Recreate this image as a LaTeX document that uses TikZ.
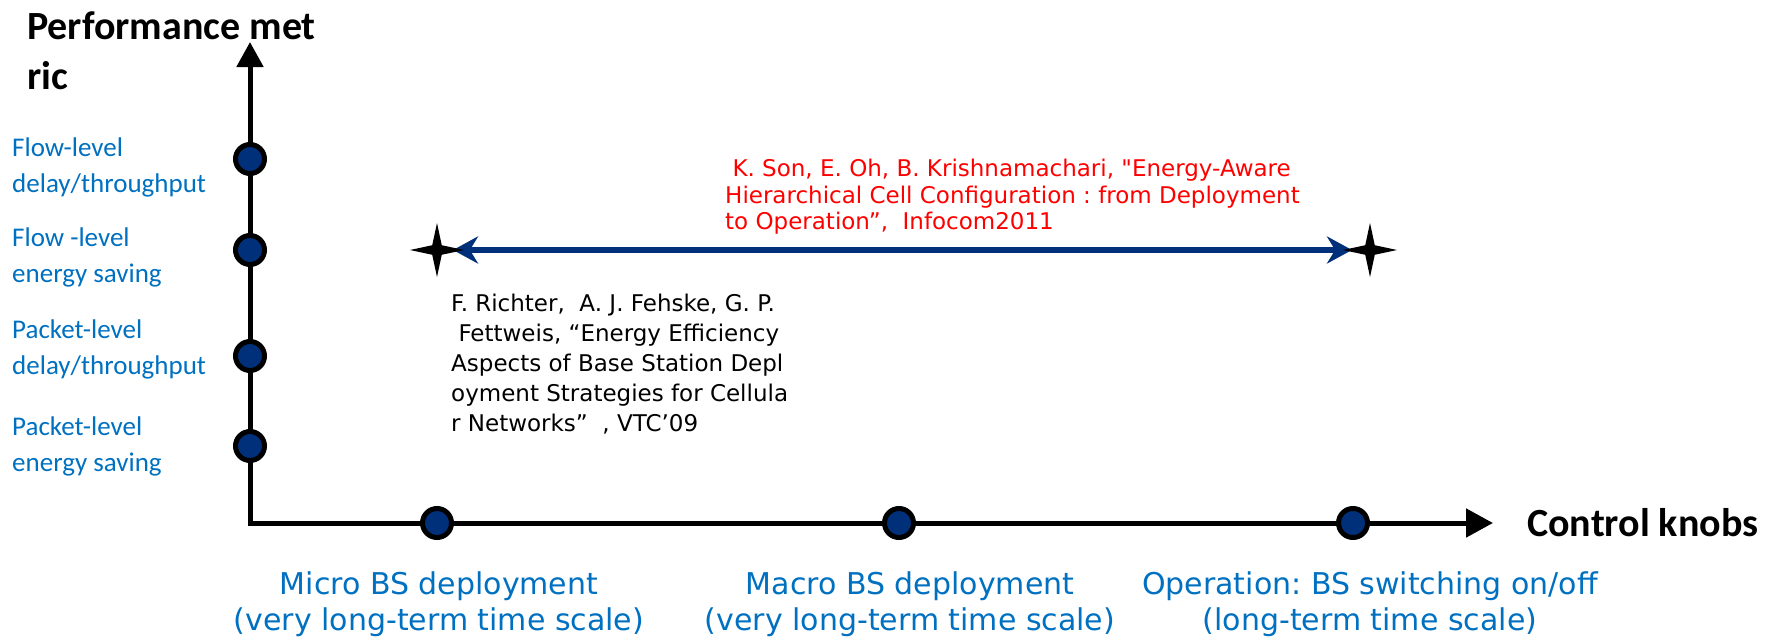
\documentclass[tikz,border=0pt]{standalone}
\usepackage{fontspec}
\usepackage{tikz}
\usetikzlibrary{arrows.meta,shapes.geometric,positioning}
\setmainfont{DejaVu Sans}
\newfontfamily\handfont{Carlito}
\definecolor{navy}{RGB}{0,48,122}
\definecolor{knobblue}{RGB}{0,112,192}
\frenchspacing

\begin{document}
\begin{tikzpicture}[x=1pt,y=-1pt]
\useasboundingbox (0,0) rectangle (1767,640);

\coordinate (o) at (250,523);
\coordinate (ytop) at (250,42);
\coordinate (xend) at (1493,523);
\coordinate (sl) at (437,250);
\coordinate (sr) at (1370,250);

\draw [line width=5pt, line join=miter,
       {Triangle[length=25pt,width=26pt]}-{Triangle[length=27pt,width=28pt]}]
      (ytop) -- (o) -- (xend);

\begin{scope}[>={Stealth[navy,length=25pt,width=27pt]},
              every edge/.style={draw=navy,line width=6pt}]
    \path [<->] (sl) edge[shorten <=16pt,shorten >=18pt] (sr);
\end{scope}

\begin{scope}[every node/.style={circle,draw=black,line width=5pt,fill=navy,
                                 minimum size=29pt,inner sep=0pt}]
    \node (m1) at (250,159) {};
    \node (m2) at (250,250) {};
    \node (m3) at (250,356) {};
    \node (m4) at (250,446) {};
    \node (k1) at (437,523) {};
    \node (k2) at (899,523) {};
    \node (k3) at (1353,523) {};
\end{scope}

\begin{scope}[every node/.style={star,star points=4,star point ratio=4,
                                 fill=black,minimum size=54pt,inner sep=0pt}]
    \node (s1) at (sl) {};
    \node (s2) at (sr) {};
\end{scope}

\begin{scope}[every node/.style={inner sep=0pt,align=left,text=black,
                                 font=\handfont\bfseries\fontsize{40}{50}\selectfont}]
    \node[anchor=north west] (ytitle) at (27,12) {Performance met\\ric};
    \node[right=34pt of xend] (xtitle) {Control knobs};
\end{scope}

\begin{scope}[every node/.style={inner sep=0pt,align=left,anchor=west,text=knobblue,
                                 font=\handfont\fontsize{27}{36}\selectfont}]
    \node (l1) at (12,167) {Flow-level\\delay/throughput};
    \node (l2) at (12,257) {Flow -level\\energy saving};
    \node (l3) at (12,349) {Packet-level\\delay/throughput};
    \node (l4) at (12,446) {Packet-level\\energy saving};
\end{scope}

\begin{scope}[every node/.style={inner sep=0pt,align=center,text=knobblue,
                                 font=\fontsize{30}{36}\selectfont}]
    \node (b1) at (439,604) {Micro BS deployment\\(very long-term time scale)};
    \node (b2) at (910,604) {Macro BS deployment\\(very long-term time scale)};
    \node (b3) at (1370,604) {Operation: BS switching on/off\\(long-term time scale)};
\end{scope}

\node[inner sep=0pt,align=left,anchor=west,text=red,font=\fontsize{23}{26.5}\selectfont]
    (son) at (725,197)
    {\ K. Son, E. Oh, B. Krishnamachari, \textquotedbl Energy-Aware\\
     Hierarchical Cell Configuration : from Deployment\\
     to Operation”, \ Infocom2011};
\node[inner sep=0pt,align=left,anchor=west,font=\fontsize{23}{30}\selectfont]
    (richter) at (451,364)
    {F. Richter, \ A. J. Fehske, G. P.\\
     \ Fettweis, “Energy Efficiency\\
     Aspects of Base Station Depl\\
     oyment Strategies for Cellula\\
     r Networks” \ , VTC’09};
\end{tikzpicture}
\end{document}
